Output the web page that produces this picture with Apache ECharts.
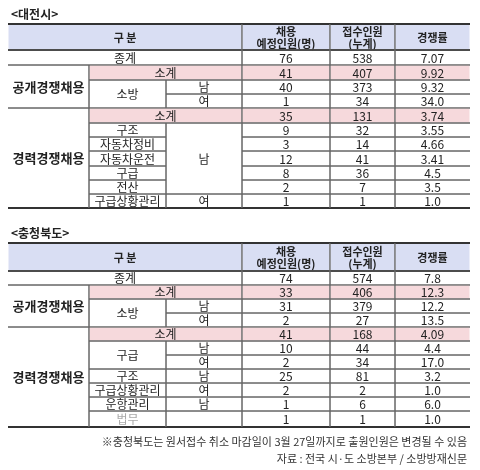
<!DOCTYPE html>
<html><head><meta charset="utf-8">
<script src="https://cdn.jsdelivr.net/npm/echarts@6/dist/echarts.min.js"></script>
<style>html,body{margin:0;padding:0;background:#fff}#c{width:480px;height:470px}</style>
</head><body><div id="c"></div>
<script>
// ---- data ----
const headers = ['구 분', '채용\n예정인원(명)', '접수인원\n(누계)', '경쟁률'];
const djTitle = '<대전시>';
const djLabels = ['종계','공개경쟁채용','소계','소방','남','여','경력경쟁채용','소계','구조','자동차정비','자동차운전','구급','전산','구급상황관리','남','여'];
const djPlanned = ['76','41','40','1','35','9','3','12','8','2','1'];
const djApplied = ['538','407','373','34','131','32','14','41','36','7','1'];
const djRatio   = ['7.07','9.92','9.32','34.0','3.74','3.55','4.66','3.41','4.5','3.5','1.0'];
const cbTitle = '<충청북도>';
const cbLabels = ['종계','공개경쟁채용','소계','소방','남','여','경력경쟁채용','소계','구급','남','여','구조','남','구급상황관리','여','운항관리','남','법무',''];
const cbPlanned = ['74','33','31','2','41','10','2','25','2','1','1'];
const cbApplied = ['574','406','379','27','168','44','34','81','2','6','1'];
const cbRatio   = ['7.8','12.3','12.2','13.5','4.09','4.4','17.0','3.2','1.0','6.0','1.0'];
const note1 = '※충청북도는 원서접수 취소 마감일이 3월 27일까지로 출원인원은 변경될 수 있음';
const note2 = '자료 : 전국 시·도 소방본부 / 소방방재신문';

// ---- layout ----
const colX = [8, 89, 166, 242, 330, 395, 470];
const djRows = [24,50,65,80,94,108,123,137,151,166,180,194,208];
const cbRows = [243,271,285,299,313,327,341,355,369,383,397,411,427];
const HEAD='#d9def3', PINK='#f6d9dc';

function buildTable(rows, L, planned, applied, ratio, isDJ){
  const cells=[];
  const add=(r,c,rs,cs,text,o={})=>cells.push(Object.assign({x0:colX[c],x1:colX[c+cs],y0:rows[r],y1:rows[r+rs],text},o));
  add(0,0,1,3,headers[0],{fill:HEAD,bold:true,head:true});
  add(0,3,1,1,headers[1],{fill:HEAD,bold:true,head:true});
  add(0,4,1,1,headers[2],{fill:HEAD,bold:true,head:true});
  add(0,5,1,1,headers[3],{fill:HEAD,bold:true,head:true});
  add(1,0,1,3,L[0]);
  add(2,0,3,1,L[1],{bold:true,big:true});
  add(2,1,1,2,L[2],{fill:PINK});
  add(3,1,2,1,L[3]); add(3,2,1,1,L[4]); add(4,2,1,1,L[5]);
  add(5,0,7,1,L[6],{bold:true,big:true});
  add(5,1,1,2,L[7],{fill:PINK});
  if(isDJ){
    for(let i=0;i<6;i++) add(6+i,1,1,1,L[8+i]);
    add(6,2,5,1,L[14]); add(11,2,1,1,L[15]);
  } else {
    add(6,1,2,1,L[8]); add(6,2,1,1,L[9]); add(7,2,1,1,L[10]);
    add(8,1,1,1,L[11]); add(8,2,1,1,L[12]);
    add(9,1,1,1,L[13]); add(9,2,1,1,L[14]);
    add(10,1,1,1,L[15]); add(10,2,1,1,L[16]);
    add(11,1,1,1,L[17],{color:'#aaa'}); add(11,2,1,1,L[18]);
  }
  for(let i=0;i<planned.length;i++){
    const r=i+1, pink=(i===1||i===4)?PINK:null;
    add(r,3,1,1,planned[i],{fill:pink});
    add(r,4,1,1,applied[i],{fill:pink});
    add(r,5,1,1,ratio[i],{fill:pink});
  }
  cells.forEach(c=>{c.top=(c.y0===rows[0]); c.bottom=(c.y1===rows[rows.length-1]);});
  return cells;
}
const cells = buildTable(djRows,djLabels,djPlanned,djApplied,djRatio,true)
  .concat(buildTable(cbRows,cbLabels,cbPlanned,cbApplied,cbRatio,false));

const FONT='"Noto Sans CJK KR", sans-serif';
function renderItem(params, api){
  const c=cells[params.dataIndex];
  const p0=api.coord([c.x0,c.y0]), p1=api.coord([c.x1,c.y1]);
  const ch=[];
  if(c.fill) ch.push({type:'rect',shape:{x:p0[0]+0.5,y:p0[1]+0.5,width:p1[0]-p0[0]-1,height:p1[1]-p0[1]-1},style:{fill:c.fill}});
  const ln=(x1,y1,x2,y2,w,col)=>ch.push({type:'line',shape:{x1,y1,x2,y2},style:{stroke:col,lineWidth:w}});
  ln(p0[0],p0[1],p1[0],p0[1],c.top?2:1,c.top?'#333':'#666');
  ln(p0[0],p1[1],p1[0],p1[1],(c.bottom||c.head)?2:1,(c.bottom||c.head)?'#333':'#666');
  if(c.x0!==colX[0]) ln(p0[0],p0[1],p0[0],p1[1],1,'#666');
  if(c.x1!==colX[6]) ln(p1[0],p0[1],p1[0],p1[1],1,'#666');
  const size=c.head?'11px ':(c.big?'13px ':'12px ');
  ch.push({type:'text',style:{text:c.text,x:(p0[0]+p1[0])/2,y:(p0[1]+p1[1])/2+0.5,align:'center',verticalAlign:'middle',
    font:(c.bold?'bold ':'')+size+FONT,fill:c.color||'#222',lineHeight:c.head?12:14}});
  return {type:'group',children:ch};
}

const chart=echarts.init(document.getElementById('c'),null,{renderer:'canvas'});
chart.setOption({
  animation:false,
  title:[
    {text:djTitle,left:6,top:3,textStyle:{fontSize:12,fontWeight:'bold',fontFamily:FONT,color:'#222'}},
    {text:cbTitle,left:6,top:222,textStyle:{fontSize:12,fontWeight:'bold',fontFamily:FONT,color:'#222'}},
    {text:note1,right:8,top:431,textStyle:{fontSize:11,fontWeight:'normal',fontFamily:FONT,color:'#333'}},
    {text:note2,right:8,top:448,textStyle:{fontSize:11,fontWeight:'normal',fontFamily:FONT,color:'#333'}}
  ],
  grid:{left:0,right:0,top:0,bottom:0},
  xAxis:{type:'value',min:0,max:480,show:false},
  yAxis:{type:'value',min:0,max:470,inverse:true,show:false},
  series:[{type:'custom',renderItem,data:cells.map(c=>[c.x0,c.y0,c.x1,c.y1]),clip:false}]
});
</script></body></html>
